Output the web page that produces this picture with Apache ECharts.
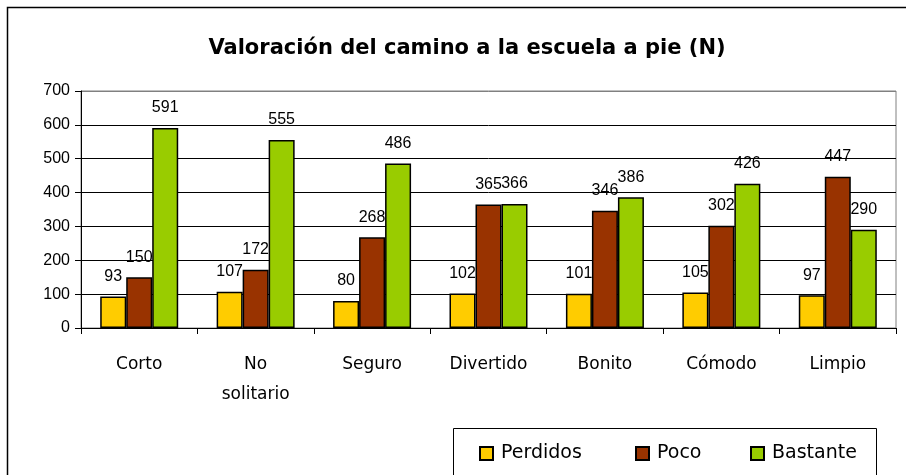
<!DOCTYPE html>
<html><head><meta charset="utf-8">
<script src="https://cdn.jsdelivr.net/npm/echarts@6/dist/echarts.min.js"></script>
<style>html,body{margin:0;padding:0;background:#fff}#c{width:906px;height:475px}</style>
</head><body><div id="c"></div>
<script>
const categories = ['Corto', 'No\nsolitario', 'Seguro', 'Divertido', 'Bonito', 'Cómodo', 'Limpio'];
const perdidos = [93, 107, 80, 102, 101, 105, 97];
const poco = [150, 172, 268, 365, 346, 302, 447];
const bastante = [591, 555, 486, 366, 386, 426, 290];
const seriesNames = ['Perdidos', 'Poco', 'Bastante'];
const yTicks = { min: 0, max: 700, interval: 100 };

const casual = '"Comic Sans MS", "DejaVu Sans", sans-serif';
const arial = '"Liberation Sans", Arial, sans-serif';
const colors = ['#FFCC00', '#993300', '#99CC00'];
const dataSets = [perdidos, poco, bastante];
const legendX = [479, 635, 750];

const chart = echarts.init(document.getElementById('c'), null, { renderer: 'canvas' });
chart.setOption({
  animation: false,
  backgroundColor: '#fff',
  title: {
    text: 'Valoración del camino a la escuela a pie (N)',
    left: 462, top: 33, textAlign: 'center',
    textStyle: { fontFamily: casual, fontWeight: 'bold', fontSize: 21, color: '#000' }
  },
  graphic: [
    { type: 'rect', shape: { x: 7.5, y: 7.5, width: 1000, height: 1000 }, style: { fill: 'none', stroke: '#000', lineWidth: 1.5 }, z: 0 },
    { type: 'rect', shape: { x: 453.5, y: 428.5, width: 423, height: 100 }, style: { fill: '#fff', stroke: '#000', lineWidth: 1 }, z: 1 }
  ],
  legend: seriesNames.map((n, i) => ({
    data: [n], left: legendX[i], top: 444, padding: 0,
    icon: 'rect', itemWidth: 13, itemHeight: 13, itemGap: 0,
    textStyle: { fontFamily: casual, fontSize: 19, color: '#000', padding: [0, 0, 0, 3] },
    z: 5
  })),
  grid: { left: 81, right: 10, top: 91, bottom: 147, show: true, borderColor: '#808080', borderWidth: 1, containLabel: false },
  xAxis: {
    type: 'category', data: categories, boundaryGap: true,
    axisLine: { lineStyle: { color: '#000' } },
    axisTick: { show: true, alignWithLabel: false, length: 6, lineStyle: { color: '#000' } },
    axisLabel: { fontFamily: casual, fontSize: 17, color: '#000', lineHeight: 30, margin: 22, interval: 0 }
  },
  yAxis: {
    type: 'value', min: yTicks.min, max: yTicks.max, interval: yTicks.interval,
    axisLine: { show: true, lineStyle: { color: '#000' } },
    axisTick: { show: true, length: 6, lineStyle: { color: '#000' } },
    axisLabel: { fontFamily: arial, fontSize: 16, color: '#000', margin: 11 },
    splitLine: { lineStyle: { color: ['#000', '#000', '#000', '#000', '#000', '#000', '#000', '#808080'], width: 1 } }
  },
  series: seriesNames.map((n, i) => ({
    name: n, type: 'bar', data: dataSets[i], barWidth: 26, barGap: '0%',
    itemStyle: { color: colors[i], borderColor: '#000', borderWidth: 1.5 },
    label: { show: true, position: 'top', distance: 12, fontFamily: arial, fontSize: 16, color: '#000' }
  }))
});
</script></body></html>
